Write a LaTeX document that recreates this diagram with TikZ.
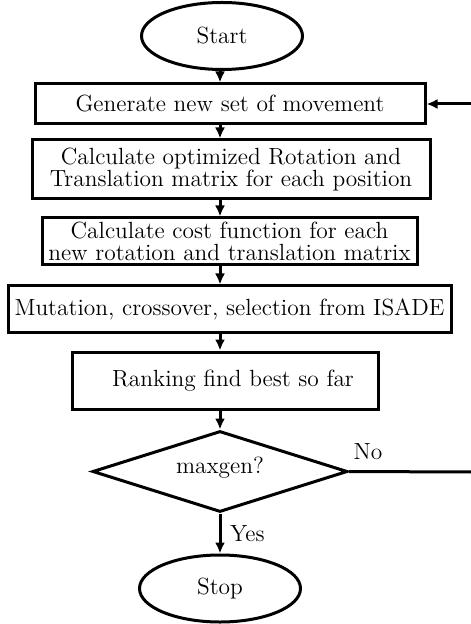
\documentclass[tikz,border=0pt]{standalone}
\usetikzlibrary{shapes.geometric,arrows.meta}
\begin{document}
\begin{tikzpicture}[x=0.5pt,y=-0.5pt,
  every node/.style={font=\fontsize{11.7}{12.5}\selectfont},
  box/.style={draw,line width=1.5pt,rectangle,inner sep=1pt,align=center},
  term/.style={draw,line width=1.5pt,ellipse,minimum width=80.5pt,minimum height=33.5pt,inner sep=0pt},
  decide/.style={draw,line width=1.5pt,diamond,aspect=3.15,minimum width=127.5pt,minimum height=40.5pt,inner sep=0pt},
  conn/.style={line width=1.5pt,-{Latex[length=5.5pt,width=5pt]}},
  line/.style={line width=1.5pt}]
\useasboundingbox (0,0) rectangle (470,624);
\node[term] (start) at (222,36) {Start};
\node[box,minimum width=195pt,minimum height=20pt] (gen) at (230,104) {Generate new set of movement};
\node[box,minimum width=199pt,minimum height=29.5pt] (rot) at (231,169.5) {Calculate optimized Rotation and\\[-1.5pt]Translation matrix for each position};
\node[box,minimum width=187.5pt,minimum height=23.5pt,inner ysep=0pt] (cost) at (229.5,241.5) {Calculate cost function for each\\[-1.8pt]new rotation and translation matrix};
\node[box,minimum width=221.5pt,minimum height=23pt] (mut) at (229.5,309) {Mutation, crossover, selection from ISADE};
\node[box,minimum width=153pt,minimum height=28.5pt] (rank) at (225,380.5) {\hspace{8pt}Ranking find best so far};
\node[decide] (dia) at (220,471.5) {};
\node (dtext) at (220,468) {maxgen?};
\node[term] (stop) at (220,588.5) {Stop};
\coordinate (c1) at (472,472);
\draw[conn] (start.south -| 220,0) -- (gen.north -| 220,0);
\draw[conn] (gen.south -| 220,0) -- (rot.north -| 220,0);
\draw[conn] (rot.south -| 220,0) -- (cost.north -| 220,0);
\draw[conn] (cost.south -| 220,0) -- (mut.north -| 220,0);
\draw[conn] (mut.south -| 220,0) -- (rank.north -| 220,0);
\draw[conn] (rank.south -| 220,0) -- (dia.north);
\draw[conn] (dia.south) -- node[right=1pt] {Yes} (stop.north);
\draw[line] (dia.east) -- (c1);
\draw[conn] (c1) |- (gen.east);
\node (no) at (368,452) {No};
\end{tikzpicture}
\end{document}
